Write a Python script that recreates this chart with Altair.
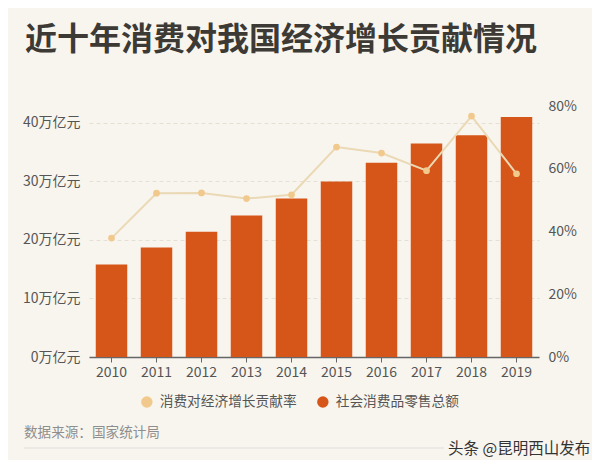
import altair as alt
import pandas as pd

years = ["2010", "2011", "2012", "2013", "2014", "2015", "2016", "2017", "2018", "2019"]
retail = [15.8, 18.7, 21.4, 24.2, 27.1, 30.0, 33.2, 36.5, 37.9, 41.0]          # 万亿元
contrib = [37.9, 52.2, 52.3, 50.5, 51.7, 66.9, 65.0, 59.4, 76.8, 58.4]        # %
left_ticks = [0, 10, 20, 30, 40]
right_ticks = [0, 20, 40, 60, 80]
bar_name = "社会消费品零售总额"
line_name = "消费对经济增长贡献率"
title_text = "近十年消费对我国经济增长贡献情况"
source_text = "数据来源：国家统计局"
watermark_text = "头条 @昆明西山发布"

BG = "#F8F5EF"
BAR = "#D6561A"
LINE = "#EAD9B4"
DOT = "#F1C98C"
FONT = "Noto Sans CJK SC"

df = pd.DataFrame({"year": years, "retail": retail, "contrib": contrib,
                   "s_bar": bar_name, "s_line": line_name})

x = alt.X("year:N", title=None, sort=years,
          scale=alt.Scale(paddingInner=0.3, paddingOuter=0.15),
          axis=alt.Axis(labelAngle=0, labelFontSize=14, labelColor="#555555",
                        labelFont=FONT, domainColor="#666666", domainWidth=1.5,
                        tickColor="#666666", tickSize=5, labelPadding=3))

color_scale = alt.Scale(domain=[line_name, bar_name], range=[DOT, BAR])
legend = alt.Legend(orient="none", legendX=51, legendY=289, direction="horizontal",
                    title=None, symbolType="circle", symbolSize=130,
                    labelFontSize=13.7, labelFont=FONT, labelColor="#555555",
                    labelOffset=6, columnPadding=19, padding=0, symbolStrokeWidth=0)

bars = alt.Chart(df).mark_bar().encode(
    x=x,
    y=alt.Y("retail:Q", title=None,
            scale=alt.Scale(domain=[0, 42.9], nice=False),
            axis=alt.Axis(values=left_ticks, labelExpr="datum.value + '万亿元'",
                          labelFontSize=14, labelColor="#555555", labelFont=FONT,
                          domain=False, ticks=False, labelPadding=9,
                          grid=True, gridColor="#E6E0D4", gridDash=[4, 3])),
    color=alt.Color("s_bar:N", scale=color_scale, legend=legend),
)

y_right = alt.Y("contrib:Q", title=None,
                scale=alt.Scale(domain=[0, 80], nice=False),
                axis=alt.Axis(orient="right", values=right_ticks,
                              labelExpr="datum.value + '%'", labelFontSize=14,
                              labelColor="#555555", labelFont=FONT, domain=False,
                              ticks=False, labelPadding=9, grid=False))

line = alt.Chart(df).mark_line(color=LINE, strokeWidth=2).encode(x=x, y=y_right)
pts = alt.Chart(df).mark_circle(size=45, opacity=1).encode(
    x=x, y=y_right,
    color=alt.Color("s_line:N", scale=color_scale, legend=legend),
)
line_layer = alt.layer(line, pts)

texts = pd.DataFrame({"t": [title_text]})
title = alt.Chart(texts).mark_text(align="left", baseline="alphabetic", fontSize=32,
                                   fontWeight="bold", font=FONT, color="#3D3A35").encode(
    text="t:N", x=alt.value(-64), y=alt.value(-56))

src = alt.Chart(pd.DataFrame({"t": [source_text]})).mark_text(
    align="left", baseline="middle", fontSize=13.6, font=FONT, color="#8E8E8E").encode(
    text="t:N", x=alt.value(-65), y=alt.value(327))

wm = alt.Chart(pd.DataFrame({"t": [watermark_text]})).mark_text(
    align="left", baseline="middle", fontSize=15.5, font=FONT, color="#333333").encode(
    text="t:N", x=alt.value(359), y=alt.value(343))

sep = alt.Chart(pd.DataFrame({"a": [0]})).mark_rule(color="#DDDDDD", strokeWidth=1).encode(
    x=alt.value(-65), x2=alt.value(355), y=alt.value(342))

main = alt.layer(bars, line_layer).resolve_scale(y="independent")

chart = alt.layer(main, title, src, sep, wm).properties(
    width=450, height=251,
    background=BG,
    padding={"left": 81, "top": 98, "right": 53, "bottom": 103},
    autosize=alt.AutoSizeParams(type="none"),
).configure_view(stroke=None)

chart.save("out.html", embed_options={"renderer": "svg", "actions": False})
